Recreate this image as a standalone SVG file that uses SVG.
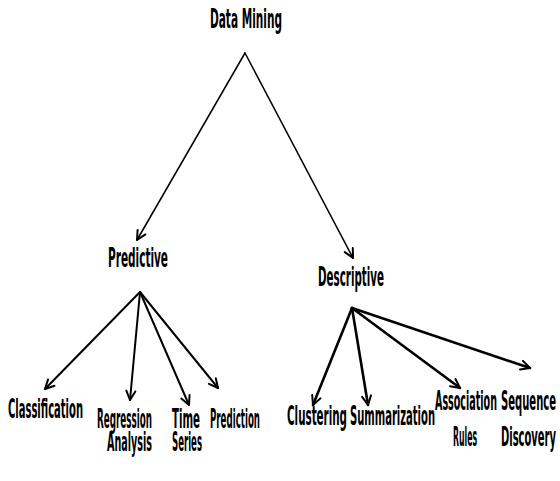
<svg xmlns="http://www.w3.org/2000/svg" width="560" height="481" viewBox="0 0 560 481">
<style>
text{font-family:"DejaVu Sans Condensed","DejaVu Sans",sans-serif;font-weight:bold;font-size:26px;fill:#000}
.c{fill:none;stroke:#000;stroke-linecap:round}
.t{stroke-width:1.5}
.m{stroke-width:2}
.k{stroke-width:2.6}
</style>
<defs>
<marker id="ah" markerUnits="userSpaceOnUse" viewBox="-12 -7 14 14" markerWidth="14" markerHeight="14" refX="0" refY="0" orient="auto">
<path d="M-9,-4.5 L0,0 L-9,4.5" fill="none" stroke="#000" stroke-width="2" stroke-linecap="round" stroke-linejoin="round"/>
</marker>
</defs>
<rect width="560" height="481" fill="#fff"/>
<g id="connectors">
<line class="c t" x1="245" y1="53" x2="137" y2="240" marker-end="url(#ah)"/>
<line class="c t" x1="245" y1="53" x2="353" y2="258" marker-end="url(#ah)"/>
<line class="c m" x1="140" y1="292" x2="45" y2="389" marker-end="url(#ah)"/>
<line class="c m" x1="140" y1="292" x2="130" y2="400" marker-end="url(#ah)"/>
<line class="c m" x1="140" y1="292" x2="189" y2="405" marker-end="url(#ah)"/>
<line class="c m" x1="140" y1="292" x2="218" y2="388" marker-end="url(#ah)"/>
<line class="c k" x1="352" y1="308" x2="313" y2="405" marker-end="url(#ah)"/>
<line class="c k" x1="352" y1="308" x2="368" y2="405" marker-end="url(#ah)"/>
<line class="c k" x1="352" y1="308" x2="460" y2="388" marker-end="url(#ah)"/>
<line class="c k" x1="352" y1="308" x2="530" y2="368" marker-end="url(#ah)"/>
</g>
<g id="data-mining"><text x="210" y="28" textLength="72" lengthAdjust="spacingAndGlyphs">Data Mining</text></g>
<g id="predictive"><text x="108" y="267" textLength="60" lengthAdjust="spacingAndGlyphs">Predictive</text></g>
<g id="descriptive"><text x="318" y="286" textLength="66" lengthAdjust="spacingAndGlyphs">Descriptive</text></g>
<g id="classification"><text x="8" y="418" textLength="75" lengthAdjust="spacingAndGlyphs">Classification</text></g>
<g id="regression-analysis"><text x="97" y="428" textLength="55" lengthAdjust="spacingAndGlyphs">Regression</text><text x="107" y="451" textLength="45" lengthAdjust="spacingAndGlyphs">Analysis</text></g>
<g id="time-series"><text x="172" y="428" textLength="28" lengthAdjust="spacingAndGlyphs">Time</text><text x="172" y="451" textLength="30" lengthAdjust="spacingAndGlyphs">Series</text></g>
<g id="prediction"><text x="210" y="428" textLength="50" lengthAdjust="spacingAndGlyphs">Prediction</text></g>
<g id="clustering"><text x="287" y="425" textLength="60" lengthAdjust="spacingAndGlyphs">Clustering</text></g>
<g id="summarization"><text x="350" y="425" textLength="85" lengthAdjust="spacingAndGlyphs">Summarization</text></g>
<g id="association-rules"><text x="435" y="410" textLength="62" lengthAdjust="spacingAndGlyphs">Association</text><text x="453" y="446" textLength="24" lengthAdjust="spacingAndGlyphs">Rules</text></g>
<g id="sequence-discovery"><text x="501" y="410" textLength="55" lengthAdjust="spacingAndGlyphs">Sequence</text><text x="501" y="446" textLength="55" lengthAdjust="spacingAndGlyphs">Discovery</text></g>
</svg>
